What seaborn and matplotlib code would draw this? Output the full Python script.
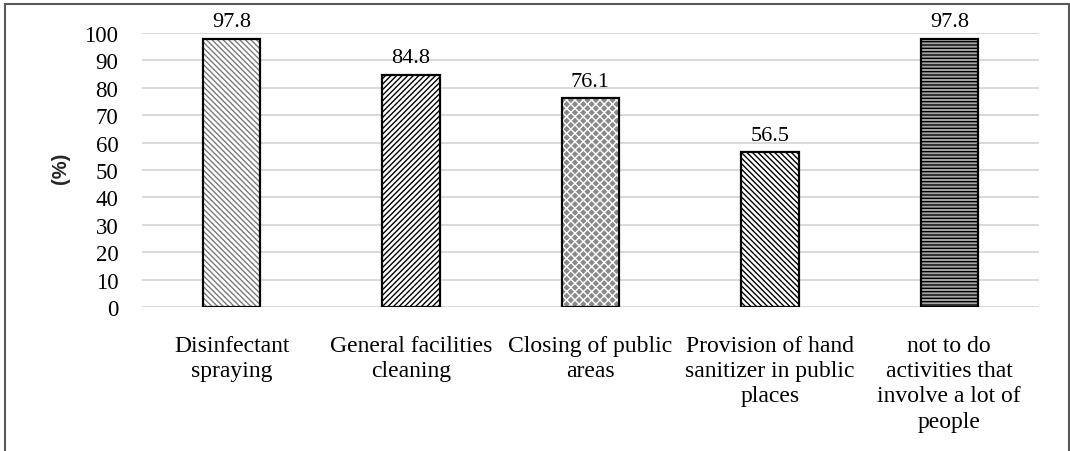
import matplotlib
matplotlib.use("Agg")
import matplotlib.pyplot as plt
import seaborn as sns
from matplotlib.patches import Rectangle

categories = ["Disinfectant spraying", "General facilities cleaning",
              "Closing of public areas",
              "Provision of hand sanitizer in public places",
              "not to do activities that involve a lot of people"]
tick_labels = ["Disinfectant\nspraying", "General facilities\ncleaning",
               "Closing of public\nareas",
               "Provision of hand\nsanitizer in public\nplaces",
               "not to do\nactivities that\ninvolve a lot of\npeople"]
values = [97.8, 84.8, 76.1, 56.5, 97.8]
y_ticks = list(range(0, 101, 10))

# style per bar: (face, hatch, hatch colour)
styles = [("white", "\\" * 6, "#7a7a7a"),
          ("white", "/" * 6, "black"),
          ("#8a8a8a", "xxxx", "white"),
          ("white", "\\" * 6, "black"),
          ("#a6a6a6", "-" * 5, "black")]

sns.set_theme(style="white")
plt.rcParams["font.family"] = ["Liberation Serif", "DejaVu Sans"]
plt.rcParams["hatch.linewidth"] = 1.0

fig = plt.figure(figsize=(10.7, 4.52), dpi=100)
ax = fig.add_axes([142 / 1070, 1 - 308 / 452, 897 / 1070, 274 / 452])

sns.barplot(x=categories, y=values, width=0.32, color="white", ax=ax,
            linewidth=0, zorder=2)
for p, (face, hatch, hc) in zip(ax.patches, styles):
    p.set_facecolor(face)
    p.set_hatch(hatch)
    p.set_edgecolor(hc)
    p.set_linewidth(0)

sns.barplot(x=categories, y=values, width=0.32, fill=False, color="black",
            linewidth=1.6, ax=ax, zorder=3)

bars = ax.containers[0]
ax.bar_label(bars, labels=[f"{v:.1f}" for v in values], padding=5.5,
             fontsize=16, color="black")

ax.set_ylim(0, 100)
ax.set_xlim(-0.5, len(categories) - 0.5)
ax.set_yticks(y_ticks)
ax.set_yticklabels([str(t) for t in y_ticks], fontsize=16.5)
ax.set_xticks(range(len(categories)))
ax.set_xticklabels(tick_labels, fontsize=17, linespacing=1.27)
ax.tick_params(axis="y", length=0, pad=17, colors="black")
ax.tick_params(axis="x", length=0, pad=20, colors="black")
ax.grid(axis="y", color="#d9d9d9", linewidth=1.4, zorder=0)
ax.set_axisbelow(True)
for s in ax.spines.values():
    s.set_visible(False)

ax.set_ylabel("(%)", fontsize=14.5, fontweight="bold",
              family=["Liberation Sans", "DejaVu Sans"])
ax.yaxis.set_label_coords(-0.08, 0.51)

fig.patches.append(Rectangle((5 / 1070, -0.2), (1069 - 5) / 1070,
                             1.2 - 5 / 452, transform=fig.transFigure,
                             fill=False, edgecolor="#595959", linewidth=1.5))

fig.savefig("out.png", dpi=100)
